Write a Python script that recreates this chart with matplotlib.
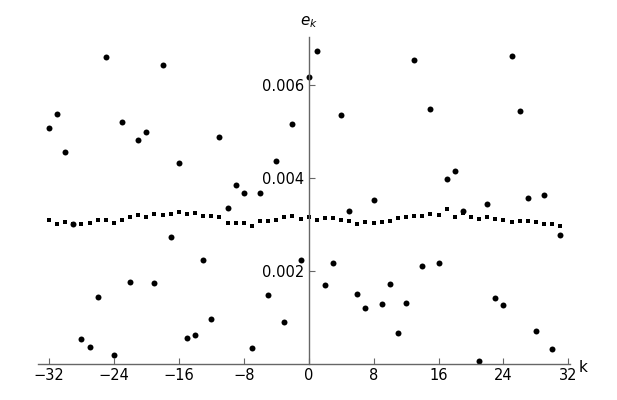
import matplotlib
matplotlib.use("Agg")
import matplotlib.pyplot as plt
import numpy as np

# ---------------------------
# Data
# ---------------------------
k_vals = np.arange(-32, 32)

# scattered round dots (k = 20 not visible in the reference)
e_dots = [
    0.00507, 0.00538, 0.00456, 0.00301, 0.00053, 0.00037, 0.00143, 0.00660,
    0.00019, 0.00520, 0.00176, 0.00481, 0.00498, 0.00174, 0.00642, 0.00272,
    0.00432, 0.00055, 0.00062, 0.00223, 0.00096, 0.00488, 0.00335, 0.00384,
    0.00367, 0.00034, 0.00367, 0.00148, 0.00436, 0.00090, 0.00517, 0.00223,
    0.00617, 0.00672, 0.00169, 0.00217, 0.00535, 0.00328, 0.00150, 0.00120,
    0.00352, 0.00128, 0.00171, 0.00066, 0.00131, 0.00653, 0.00210, 0.00548,
    0.00217, 0.00397, 0.00414, 0.00328, np.nan, 0.00006, 0.00343, 0.00141,
    0.00126, 0.00662, 0.00543, 0.00356, 0.00072, 0.00363, 0.00032, 0.00277,
]

# small squares near 0.003
e_squares = [
    0.00310, 0.00302, 0.00305, 0.00302, 0.00302, 0.00304, 0.00309, 0.00310,
    0.00304, 0.00310, 0.00317, 0.00321, 0.00315, 0.00323, 0.00321, 0.00322,
    0.00326, 0.00322, 0.00324, 0.00318, 0.00319, 0.00315, 0.00304, 0.00304,
    0.00303, 0.00297, 0.00307, 0.00308, 0.00310, 0.00317, 0.00319, 0.00312,
    0.00317, 0.00310, 0.00314, 0.00314, 0.00310, 0.00308, 0.00302, 0.00306,
    0.00304, 0.00306, 0.00307, 0.00314, 0.00315, 0.00318, 0.00319, 0.00322,
    0.00320, 0.00334, 0.00315, 0.00325, 0.00317, 0.00312, 0.00315, 0.00311,
    0.00310, 0.00306, 0.00308, 0.00307, 0.00305, 0.00301, 0.00300, 0.00297,
]

xticks = [-32, -24, -16, -8, 0, 8, 16, 24, 32]
yticks = [0.002, 0.004, 0.006]
ytick_labels = ["0.002", "0.004", "0.006"]

plt.rcParams.update({
    "font.family": "DejaVu Sans",
    "font.size": 10.5,
})

fig = plt.figure(figsize=(6.17, 4.0), dpi=100)
ax = fig.add_axes([0.0616, 0.09, 0.8622, 0.8175])

axis_color = "#666666"

ax.plot(k_vals, e_squares, linestyle="none", marker="s", markersize=2.3,
        color="black", markeredgewidth=0)
ax.plot(k_vals, e_dots, linestyle="none", marker="o", markersize=4.3,
        color="black", markeredgewidth=0)

ax.set_xlim(-33.35, 32.2)
ax.set_ylim(0, 0.00703)

# Mathematica-like axes crossing at the origin
ax.spines["left"].set_position(("data", 0))
ax.spines["bottom"].set_position(("data", 0))
ax.spines["top"].set_visible(False)
ax.spines["right"].set_visible(False)
for s in ("left", "bottom"):
    ax.spines[s].set_color(axis_color)
    ax.spines[s].set_linewidth(1.0)

ax.set_xticks(xticks)
ax.set_xticklabels([str(t).replace("-", "\u2212") for t in xticks])
ax.set_yticks(yticks)
ax.set_yticklabels(ytick_labels)
ax.tick_params(axis="both", direction="in", length=4, width=0.8,
               color=axis_color, labelsize=10.5, pad=3)

ax.text(1.016, -0.01, "k", transform=ax.transAxes, ha="left", va="center",
        fontsize=11)
ax.text(0, 1.02, "$e_k$", transform=ax.get_xaxis_transform(),
        ha="center", va="bottom", fontsize=11)

fig.savefig("out.png", dpi=100, facecolor="white")
